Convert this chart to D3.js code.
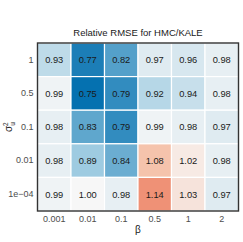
<!DOCTYPE html>
<html>
<head>
<meta charset="utf-8">
<script src="https://cdn.jsdelivr.net/npm/d3@7"></script>
<style>
  body { margin: 0; background: #fff; }
  text { font-family: "Liberation Sans", Arial, sans-serif; }
</style>
</head>
<body>
<svg id="chart" width="243" height="242"></svg>
<script>
const betas = ['0.001', '0.01', '0.1', '0.5', '1', '2']
const sigmas = ['1', '0.5', '0.1', '0.01', '1e\u221204']
const values = [
  [0.93, 0.77, 0.82, 0.97, 0.96, 0.98],
  [0.99, 0.75, 0.79, 0.92, 0.94, 0.98],
  [0.98, 0.83, 0.79, 0.99, 0.98, 0.97],
  [0.98, 0.89, 0.84, 1.08, 1.02, 0.98],
  [0.99, 1.00, 0.98, 1.14, 1.03, 0.97]
]

const cells = []
values.forEach((row, i) => row.forEach((v, j) => cells.push({s: sigmas[i], b: betas[j], v: v})))

const svg = d3.select('#chart')
const margin = {top: 43, left: 37.5, bottom: 31, right: 4.5}
const w = 243 - margin.left - margin.right
const h = 242 - margin.top - margin.bottom

const x = d3.scaleBand().domain(betas).range([0, w])
const y = d3.scaleBand().domain(sigmas).range([0, h])
const color = d3.scaleLinear()
  .domain([0.75, 0.875, 1, 1.125, 1.25])
  .range(['#0571b0', '#92c5de', '#f7f7f7', '#f4a582', '#ca0020'])
  .clamp(true)

const g = svg.append('g').attr('transform', `translate(${margin.left},${margin.top})`)

g.selectAll('rect.cell')
  .data(cells).enter()
  .append('rect')
  .attr('class', 'cell')
  .attr('x', d => x(d.b))
  .attr('y', d => y(d.s))
  .attr('width', x.bandwidth())
  .attr('height', y.bandwidth())
  .attr('fill', d => color(d.v))
  .attr('stroke', '#fff')
  .attr('stroke-width', 1.2)

g.selectAll('text.val')
  .data(cells).enter()
  .append('text')
  .attr('class', 'val')
  .attr('x', d => x(d.b) + x.bandwidth() / 2)
  .attr('y', d => y(d.s) + y.bandwidth() / 2)
  .attr('dy', '0.36em')
  .attr('text-anchor', 'middle')
  .attr('font-size', 9.3)
  .attr('fill', '#1a1a1a')
  .text(d => d.v.toFixed(2))

g.append('rect')
  .attr('width', w).attr('height', h)
  .attr('fill', 'none')
  .attr('stroke', '#333')
  .attr('stroke-width', 1.4)

// axes, ggplot style: labels only
const xa = g.append('g').attr('transform', `translate(0,${h})`)
  .call(d3.axisBottom(x).tickSize(0).tickPadding(5))
xa.select('.domain').remove()
xa.selectAll('text').attr('font-size', 9).attr('fill', '#4d4d4d').attr('font-family', '"Liberation Sans", Arial, sans-serif')

const ya = g.append('g').call(d3.axisLeft(y).tickSize(0).tickPadding(4))
ya.select('.domain').remove()
ya.selectAll('text').attr('font-size', 9).attr('fill', '#4d4d4d').attr('font-family', '"Liberation Sans", Arial, sans-serif')

svg.append('text')
  .attr('x', margin.left + w / 2).attr('y', 35.5)
  .attr('text-anchor', 'middle')
  .attr('font-size', 9.5)
  .attr('fill', '#1a1a1a')
  .text('Relative RMSE for HMC/KALE')

svg.append('text')
  .attr('x', margin.left + w / 2).attr('y', 233)
  .attr('text-anchor', 'middle')
  .attr('font-size', 10)
  .attr('fill', '#1a1a1a')
  .text('\u03b2')

const yl = svg.append('text')
  .attr('transform', `translate(12,${margin.top + h / 2}) rotate(-90)`)
  .attr('text-anchor', 'middle')
  .attr('font-size', 10)
  .attr('fill', '#1a1a1a')
yl.append('tspan').text('\u03c3')
yl.append('tspan').attr('font-size', 6.5).attr('dy', 3).text('u')
yl.append('tspan').attr('font-size', 6.5).attr('dy', -7).attr('dx', -3.8).text('2')
</script>
</body>
</html>
